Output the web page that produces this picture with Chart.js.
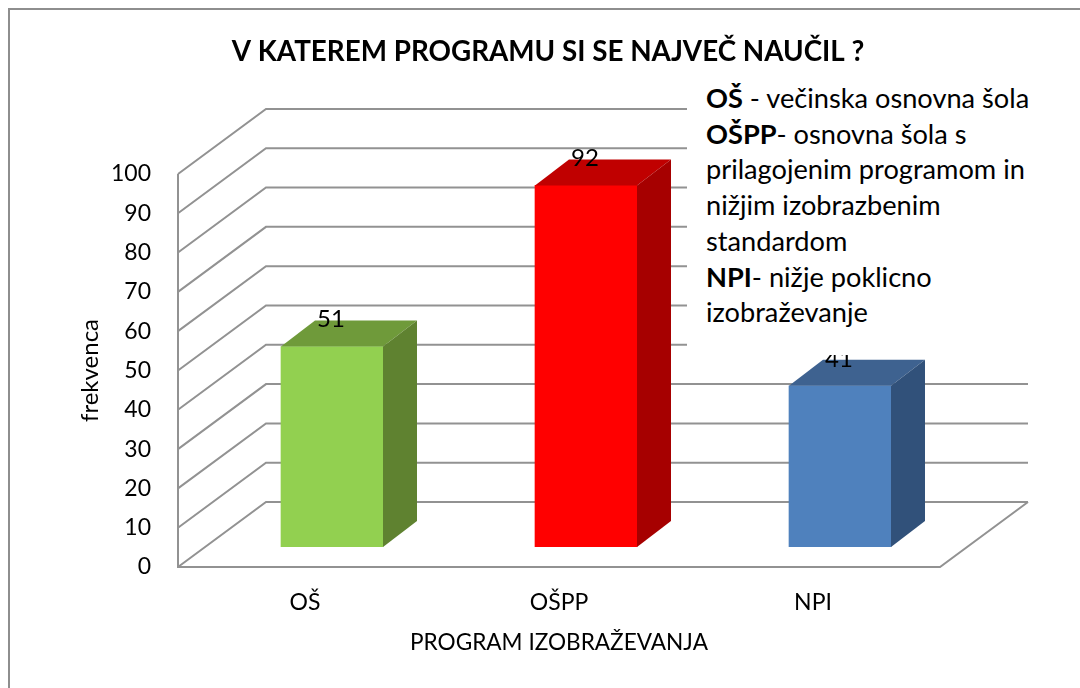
<!DOCTYPE html>
<html>
<head>
<meta charset="utf-8">
<style>
  html, body { margin: 0; padding: 0; background: #fff; overflow: hidden; }
  #wrap { position: relative; width: 1080px; height: 688px; }
  #chart { position: absolute; left: 0; top: 0; }
  #note {
    position: absolute; left: 687px; top: 80px; width: 360px; height: 275px;
    background: #fff; box-sizing: border-box; padding: 0 0 0 19px;
    font: 27.2px/35.7px Lato, sans-serif; color: #000; white-space: nowrap;
  }
</style>
</head>
<body>
<div id="wrap">
  <canvas id="chart" width="1080" height="688"></canvas>
  <div id="note">
    <b>OŠ</b> - večinska osnovna šola<br>
    <b>OŠPP</b>- osnovna šola s<br>
    prilagojenim programom in<br>
    nižjim izobrazbenim<br>
    standardom<br>
    <b>NPI</b>- nižje poklicno<br>
    izobraževanje
  </div>
</div>
<script src="https://cdn.jsdelivr.net/npm/chart.js@4"></script>
<script>
const categories = ["OŠ", "OŠPP", "NPI"];
const values = [51, 92, 41];
const frontColors = ["#92d050", "#ff0000", "#4f81bd"];
const sideColors = ["#5f8230", "#a60000", "#31517a"];
const topColors = ["#6f9a3a", "#c00000", "#3e6290"];

const gridColor = "#929292";
const fontName = "Lato, sans-serif";

// depth of the box the chart stands in, and of the bars inside it
const wallDx = 88, wallDy = -65;
const barShiftX = 27, barShiftY = -20;
const barDx = 34, barDy = -26;

const wallPlugin = {
    id: "wall",
    afterLayout(chart) {
        // title sits centred over the whole picture, not over the plot
        chart.titleBlock.left += 40;
        chart.titleBlock.right += 40;
    },
    beforeDatasetsDraw(chart) {
        const { ctx, scales: { x, y } } = chart;
        ctx.save();
        ctx.strokeStyle = gridColor;
        ctx.lineWidth = 2;

        // lines on the side and back wall
        y.ticks.forEach(t => {
            const py = y.getPixelForValue(t.value);
            ctx.beginPath();
            ctx.moveTo(x.left, py);
            ctx.lineTo(x.left + wallDx, py + wallDy);
            ctx.lineTo(x.right + wallDx, py + wallDy);
            ctx.stroke();
        });

        // front of the floor, right edge, value axis
        const y0 = y.getPixelForValue(0);
        ctx.beginPath();
        ctx.moveTo(x.left, y.getPixelForValue(100));
        ctx.lineTo(x.left, y0);
        ctx.lineTo(x.right, y0);
        ctx.lineTo(x.right + wallDx, y0 + wallDy);
        ctx.stroke();
        ctx.restore();

        // bars stand further back than the axis
        ctx.save();
        ctx.translate(barShiftX, barShiftY);
    },
    afterDatasetsDraw(chart) {
        const { ctx } = chart;
        const bars = chart.getDatasetMeta(0).data;

        bars.forEach((b, i) => {
            const l = b.x - b.width / 2, r = b.x + b.width / 2;

            ctx.fillStyle = topColors[i];
            ctx.beginPath();
            ctx.moveTo(l, b.y);
            ctx.lineTo(l + barDx, b.y + barDy);
            ctx.lineTo(r + barDx, b.y + barDy);
            ctx.lineTo(r, b.y);
            ctx.closePath();
            ctx.fill();

            ctx.fillStyle = sideColors[i];
            ctx.beginPath();
            ctx.moveTo(r, b.y);
            ctx.lineTo(r + barDx, b.y + barDy);
            ctx.lineTo(r + barDx, b.base + barDy);
            ctx.lineTo(r, b.base);
            ctx.closePath();
            ctx.fill();
        });
        ctx.restore();

        // value labels, sitting on top of the bar
        ctx.save();
        ctx.fillStyle = "#000";
        ctx.font = "24px " + fontName;
        ctx.textAlign = "center";
        ctx.textBaseline = "middle";
        bars.forEach((b, i) => {
            ctx.fillText(values[i], b.x + barShiftX - 1, b.y + barShiftY - 27);
        });
        ctx.restore();
    }
};

new Chart(document.getElementById("chart"), {
    type: "bar",
    data: {
        labels: categories,
        datasets: [{
            data: values,
            backgroundColor: frontColors,
            borderWidth: 0,
            barThickness: 102
        }]
    },
    options: {
        responsive: false,
        animation: false,
        layout: { padding: { left: 76, top: 35, right: 140, bottom: 32 } },
        plugins: {
            legend: { display: false },
            tooltip: { enabled: false },
            title: {
                display: true,
                text: "V KATEREM PROGRAMU SI SE NAJVEČ NAUČIL ?",
                color: "#000",
                font: { family: fontName, size: 27.8, weight: "bold" },
                padding: { top: 0, bottom: 105.6 }
            }
        },
        scales: {
            x: {
                afterFit(s) { s.height = 89; },
                grid: { display: false },
                border: { display: false },
                ticks: { color: "#000", font: { family: fontName, size: 23 }, padding: 14 },
                title: {
                    display: true,
                    text: "PROGRAM IZOBRAŽEVANJA",
                    color: "#000",
                    font: { family: fontName, size: 22.6 },
                    padding: { top: 8, bottom: 0 }
                }
            },
            y: {
                afterFit(s) { s.width = 102; },
                min: 0,
                max: 100,
                grid: { display: false },
                border: { display: false },
                ticks: { stepSize: 10, color: "#000", font: { family: fontName, size: 23 }, padding: 19 },
                title: {
                    display: true,
                    text: "frekvenca",
                    color: "#000",
                    font: { family: fontName, size: 24 },
                    padding: { top: 0, bottom: 8 }
                }
            }
        }
    },
    plugins: [wallPlugin, {
        id: "frame",
        afterDraw(chart) {
            const { ctx } = chart;
            ctx.save();
            ctx.strokeStyle = "#8e8e8e";
            ctx.lineWidth = 2;
            ctx.beginPath();
            ctx.moveTo(9, 688);
            ctx.lineTo(9, 9);
            ctx.lineTo(1080, 9);
            ctx.stroke();
            ctx.restore();
        }
    }]
});
</script>
</body>
</html>
